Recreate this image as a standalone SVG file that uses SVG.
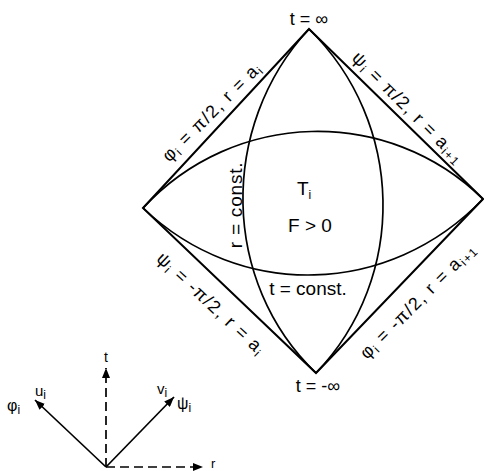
<svg xmlns="http://www.w3.org/2000/svg" width="484" height="471" viewBox="0 0 484 471">
<defs>
<style>
text{font-family:"Liberation Sans",Arial,sans-serif;fill:#000}
.edge{fill:none;stroke:#000;stroke-width:2;stroke-linejoin:miter}
.curve{fill:none;stroke:#000;stroke-width:1.7}
.axis{fill:none;stroke:#000;stroke-width:1.7}
.dash{stroke-dasharray:9 5}
.lbl{font-size:18px;letter-spacing:1.3px}
.mid{font-size:19px}
.sub{font-size:12px}
</style>
<marker id="ah" viewBox="0 0 10 8" refX="10" refY="4" markerWidth="10" markerHeight="8" markerUnits="userSpaceOnUse" orient="auto">
<path d="M0,0 L10,4 L0,8 z" fill="#000"/>
</marker>
</defs>
<rect width="484" height="471" fill="#fff"/>

<g id="connectors">
<g id="diamond">
<path class="edge" d="M309,29 L483,199 L316,373 L143,208 Z"/>
</g>
<g id="curves">
<path id="t-const-upper" class="curve" d="M143,208 C234.3,109.5 387.5,105.5 483,199"/>
<path id="t-const-lower" class="curve" d="M143,208 C240.2,300.7 389.1,296.8 483,199"/>
<path id="r-const-left" class="curve" d="M309,29 C218.2,126.9 221.4,282.7 316,373"/>
<path id="r-const-right" class="curve" d="M309,29 C404.9,122.7 408,277.1 316,373"/>
</g>
<g id="axes">
<line class="axis dash" x1="106" y1="467" x2="106" y2="368" marker-end="url(#ah)"/>
<line class="axis dash" x1="106" y1="467" x2="203" y2="467" marker-end="url(#ah)"/>
<line class="axis" x1="106" y1="467" x2="35" y2="400" marker-end="url(#ah)"/>
<line class="axis" x1="106" y1="467" x2="174" y2="397" marker-end="url(#ah)"/>
</g>
</g>

<g id="vertex-top"><text x="309" y="25" font-size="18" text-anchor="middle">t = ∞</text></g>
<g id="vertex-bottom"><text x="318" y="392" font-size="18" text-anchor="middle">t = -∞</text></g>

<g id="label-upper-left">
<text class="lbl" transform="translate(216,116) rotate(-45)" text-anchor="middle">φ<tspan class="sub" dy="3">i</tspan><tspan dy="-3"> = π/2, r = a</tspan><tspan class="sub" dy="3">i</tspan></text>
</g>
<g id="label-upper-right">
<text class="lbl" transform="translate(404,112) rotate(45)" text-anchor="middle">ψ<tspan class="sub" dy="3">i</tspan><tspan dy="-3"> = π/2, r = a</tspan><tspan class="sub" dy="3">i+1</tspan></text>
</g>
<g id="label-lower-left">
<text class="lbl" transform="translate(207,308) rotate(43)" text-anchor="middle">ψ<tspan class="sub" dy="3">i</tspan><tspan dy="-3"> = -π/2, r = a</tspan><tspan class="sub" dy="3">i</tspan></text>
</g>
<g id="label-lower-right">
<text class="lbl" transform="translate(422,305) rotate(-45)" text-anchor="middle" letter-spacing="1">φ<tspan class="sub" dy="3">i</tspan><tspan dy="-3"> = -π/2, r = a</tspan><tspan class="sub" dy="3">i+1</tspan></text>
</g>

<g id="region">
<text class="mid" x="297" y="195">T<tspan class="sub" dy="4">i</tspan></text>
<text class="mid" x="310" y="232" font-size="20" text-anchor="middle">F &gt; 0</text>
</g>
<g id="label-t-const"><text class="mid" x="308" y="295" text-anchor="middle">t = const.</text></g>
<g id="label-r-const"><text class="mid" transform="translate(242,205) rotate(-90)" text-anchor="middle" letter-spacing="0.8">r = const.</text></g>

<g id="legend">
<text x="106" y="362" font-size="14" text-anchor="middle">t</text>
<text x="211" y="468" font-size="13">r</text>
<text x="35" y="396" font-size="15">u<tspan class="sub" dy="3">i</tspan></text>
<text x="7" y="411" font-size="16">φ<tspan class="sub" dy="3">i</tspan></text>
<text x="157" y="394" font-size="15">v<tspan class="sub" dy="3">i</tspan></text>
<text x="177" y="409" font-size="16">ψ<tspan class="sub" dy="3">i</tspan></text>
</g>
</svg>
